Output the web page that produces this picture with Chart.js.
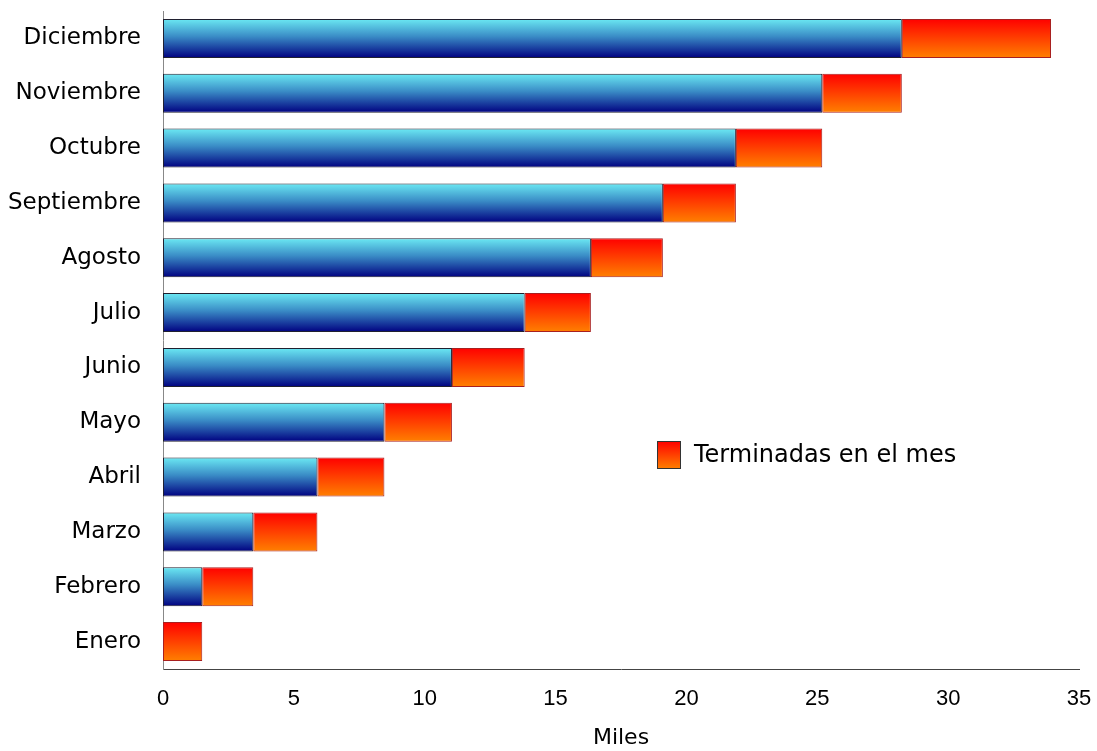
<!DOCTYPE html>
<html lang="es">
<head>
    <meta charset="UTF-8">
    <title>Terminadas por mes</title>
    <script src="https://cdn.jsdelivr.net/npm/chart.js"></script>
    <style>
        html, body {
            margin: 0;
            padding: 0;
            background: #ffffff;
        }
        #wrap {
            width: 1097px;
            height: 751px;
        }
    </style>
</head>
<body>

    <div id="wrap">
        <canvas id="barChart" width="1097" height="751"></canvas>
    </div>

    <script>
        // Meses, de arriba a abajo
        const meses = ['Diciembre', 'Noviembre', 'Octubre', 'Septiembre', 'Agosto', 'Julio',
                       'Junio', 'Mayo', 'Abril', 'Marzo', 'Febrero', 'Enero'];

        // Acumulado de meses anteriores (miles)
        const acumulado = [28.23, 25.19, 21.89, 19.10, 16.35, 13.82, 11.04, 8.46, 5.90, 3.45, 1.50, 0];

        // Terminadas en el mes (miles)
        const terminadas = [5.70, 3.04, 3.30, 2.79, 2.75, 2.53, 2.78, 2.58, 2.56, 2.45, 1.95, 1.50];

        const ejeX = { min: 0, max: 35, step: 5 };
        const tituloX = 'Miles';
        const leyenda = 'Terminadas en el mes';

        const barPct = 0.71;

        // gradient per bar, top colour to bottom colour
        function barGradient(context, topColor, midColor, bottomColor) {
            const chart = context.chart;
            const area = chart.chartArea;
            if (!area || !chart.scales.y) return bottomColor;
            const yc = chart.scales.y.getPixelForValue(context.dataIndex);
            const h = (area.bottom - area.top) / meses.length * barPct;
            const g = chart.ctx.createLinearGradient(0, yc - h / 2, 0, yc + h / 2);
            g.addColorStop(0, topColor);
            if (midColor) g.addColorStop(0.45, midColor);
            g.addColorStop(1, bottomColor);
            return g;
        }

        // legend drawn inside the plot, only the red series
        const legendPlugin = {
            id: 'insideLegend',
            afterDraw(chart) {
                const ctx = chart.ctx;
                const x = 657, y = 441, w = 24, h = 28;
                const g = ctx.createLinearGradient(0, y, 0, y + h);
                g.addColorStop(0, '#ff0000');
                g.addColorStop(1, '#ff8000');
                ctx.save();
                ctx.fillStyle = g;
                ctx.fillRect(x, y, w, h);
                ctx.strokeStyle = '#333333';
                ctx.lineWidth = 1;
                ctx.strokeRect(x + 0.5, y + 0.5, w - 1, h - 1);
                ctx.fillStyle = '#000000';
                ctx.font = '24px "DejaVu Sans"';
                ctx.textBaseline = 'middle';
                ctx.fillText(leyenda, 694, y + h / 2 + 1);
                ctx.restore();
            }
        };

        let ctxBar = document.getElementById('barChart').getContext('2d');
        new Chart(ctxBar, {
            type: 'bar',
            data: {
                labels: meses,
                datasets: [{
                    label: 'Acumulado',
                    data: acumulado,
                    backgroundColor: c => barGradient(c, '#6be9f3', '#3a8cc6', '#000080'),
                    borderColor: '#202030',
                    borderWidth: 1,
                    borderSkipped: false
                }, {
                    label: leyenda,
                    data: terminadas,
                    backgroundColor: c => barGradient(c, '#ff0000', null, '#ff8000'),
                    borderColor: '#a82020',
                    borderWidth: 1,
                    borderSkipped: false
                }]
            },
            options: {
                indexAxis: 'y',
                responsive: false,
                animation: false,
                layout: {
                    padding: { top: 11, right: 18, left: 0, bottom: 0 }
                },
                datasets: {
                    bar: { categoryPercentage: 1, barPercentage: barPct }
                },
                plugins: {
                    legend: { display: false },
                    tooltip: { enabled: false }
                },
                scales: {
                    x: {
                        stacked: true,
                        min: ejeX.min,
                        max: ejeX.max,
                        grid: { display: false },
                        border: { display: true, color: '#444444', width: 1 },
                        ticks: {
                            stepSize: ejeX.step,
                            padding: 9,
                            color: '#000000',
                            font: { family: 'Liberation Sans', size: 22 }
                        },
                        title: {
                            display: true,
                            text: tituloX,
                            color: '#000000',
                            font: { family: 'DejaVu Sans', size: 22 },
                            padding: { top: 0, bottom: 0 }
                        },
                        afterFit(scale) {
                            scale.height = 82;
                            scale.paddingLeft = 0;
                            scale.paddingRight = 0;
                        }
                    },
                    y: {
                        stacked: true,
                        grid: { display: false },
                        border: { display: true, color: '#888888', width: 1 },
                        ticks: {
                            padding: 14,
                            color: '#000000',
                            font: { family: 'DejaVu Sans', size: 23 }
                        },
                        afterFit(scale) {
                            scale.width = 163;
                            scale.paddingTop = 0;
                            scale.paddingBottom = 0;
                        }
                    }
                }
            },
            plugins: [legendPlugin]
        });
    </script>

</body>
</html>
